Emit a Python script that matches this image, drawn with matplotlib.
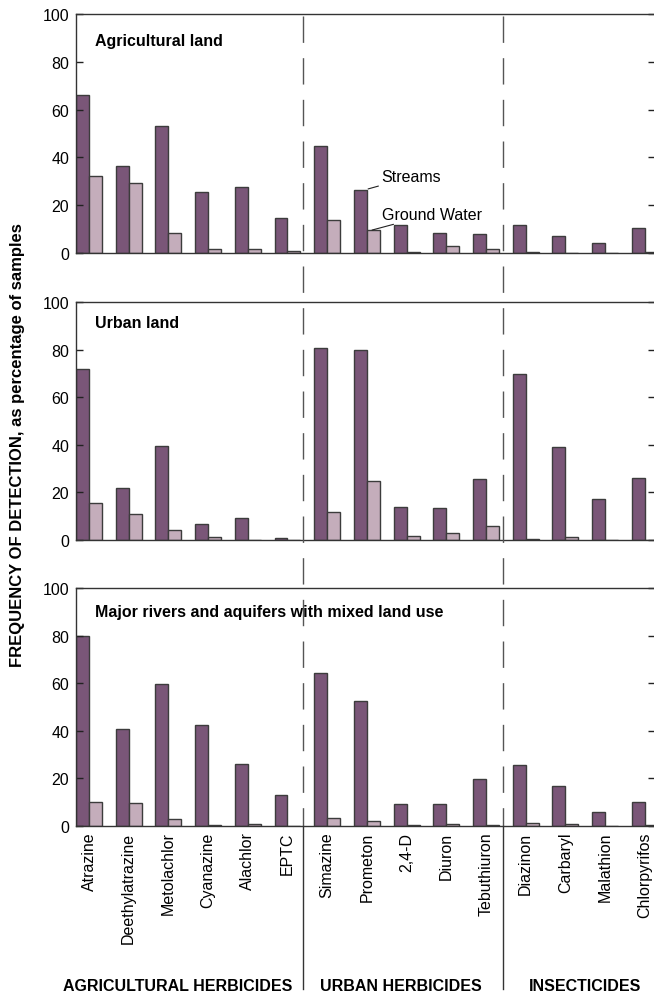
import matplotlib
matplotlib.use("Agg")
import matplotlib.pyplot as plt
from matplotlib.lines import Line2D
from matplotlib.transforms import blended_transform_factory

plt.rcParams["font.family"] = ["Liberation Sans", "DejaVu Sans"]

compounds = ["Atrazine", "Deethylatrazine", "Metolachlor", "Cyanazine", "Alachlor", "EPTC",
             "Simazine", "Prometon", "2,4-D", "Diuron", "Tebuthiuron",
             "Diazinon", "Carbaryl", "Malathion", "Chlorpyrifos"]
groups = ["AGRICULTURAL HERBICIDES", "URBAN HERBICIDES", "INSECTICIDES"]
panel_titles = ["Agricultural land", "Urban land",
                "Major rivers and aquifers with mixed land use"]

# frequency of detection (%), streams vs ground water
agr_streams = [66.1, 36.3, 53.1, 25.5, 27.6, 14.8, 44.9, 26.5, 11.8, 8.2, 7.8, 11.6, 7.3, 4.0, 10.3]
agr_gw = [32.1, 29.4, 8.5, 1.5, 1.8, 0.8, 13.8, 9.5, 0.5, 2.8, 1.5, 0.5, 0.2, 0.2, 0.5]
urb_streams = [71.8, 21.7, 39.6, 6.7, 9.1, 1.0, 80.8, 80.0, 13.7, 13.3, 25.6, 69.9, 38.9, 17.2, 26.1]
urb_gw = [15.4, 11.1, 4.3, 1.4, 0.0, 0.0, 11.6, 24.7, 1.5, 2.9, 5.9, 0.3, 1.4, 0.0, 0.0]
mix_streams = [79.8, 40.8, 59.5, 42.3, 25.9, 12.9, 64.3, 52.6, 9.1, 9.4, 19.7, 25.6, 16.7, 6.0, 10.1]
mix_gw = [10.1, 9.8, 2.8, 0.3, 0.8, 0.2, 3.2, 2.0, 0.3, 0.7, 0.5, 1.3, 0.7, 0.0, 0.3]

STREAM_C = "#7a5678"
GW_C = "#c4adbb"
EDGE = "#3c3c3c"
W = 0.327
FS = 11.5

fig = plt.figure(figsize=(6.54, 9.95), dpi=100)
left, width = 76 / 654, 579 / 654
rects = [(254, 239), (541, 238), (827, 238)]   # (bottom px, height px)
title_y = [0.888, 0.915, 0.900]
data = [(agr_streams, agr_gw), (urb_streams, urb_gw), (mix_streams, mix_gw)]

x = list(range(len(compounds)))
axes = []
for k, ((bot, h), (s, g)) in enumerate(zip(rects, data)):
    ax = fig.add_axes([left, 1 - bot / 995, width, h / 995])
    ax.bar([i - W / 2 for i in x], s, width=W, color=STREAM_C, edgecolor=EDGE, linewidth=1.0)
    ax.bar([i + W / 2 for i in x], g, width=W, color=GW_C, edgecolor=EDGE, linewidth=1.0)
    ax.set_xlim(-W, 14.257)
    ax.set_ylim(0, 100)
    ax.set_yticks([0, 20, 40, 60, 80, 100])
    ax.tick_params(axis="y", direction="in", length=5, width=1, labelsize=FS,
                   right=True, pad=5, color="#222222")
    ax.set_xticks(x)
    ax.tick_params(axis="x", length=0, pad=4)
    if k < 2:
        ax.set_xticklabels([])
    else:
        ax.set_xticklabels(compounds, rotation=90, fontsize=FS, va="top")
    for side in ax.spines.values():
        side.set_linewidth(1.0)
        side.set_color("#333333")
    ax.text(0.033, title_y[k], panel_titles[k], transform=ax.transAxes,
            fontsize=FS, fontweight="bold", va="center", ha="left")
    axes.append(ax)

# labels for the two bar series, pointing at Prometon in the top panel
ax0 = axes[0]
ax0.annotate("Streams", xy=(7 + 0.03, agr_streams[7] + 0.3), xytext=(7.36, 31.8),
             fontsize=FS, va="center", ha="left",
             arrowprops=dict(arrowstyle="-", color="#222222", lw=0.8,
                             shrinkA=0, shrinkB=0))
ax0.annotate("Ground Water", xy=(7 + 0.13, agr_gw[7] + 0.1), xytext=(7.38, 16.3),
             fontsize=FS, va="center", ha="left",
             arrowprops=dict(arrowstyle="-", color="#222222", lw=0.8,
                             shrinkA=0, shrinkB=0))

# group dividers: dashed through the panels, solid through the label area
tr = blended_transform_factory(axes[2].transData, fig.transFigure)
for xd in [5.39, 10.43]:
    fig.add_artist(Line2D([xd, xd], [1 - 17 / 995, 1 - 827 / 995], transform=tr,
                          color="#555555", lw=1.0, linestyle=(0, (19, 11))))
    fig.add_artist(Line2D([xd, xd], [1 - 827 / 995, 1 - 990 / 995], transform=tr,
                          color="#333333", lw=1.0))

for name, xc in zip(groups, [178, 401, 585]):
    fig.text(xc / 654, 1 - 987 / 995, name, fontsize=FS, fontweight="bold",
             ha="center", va="center")

fig.text(18 / 654, 1 - 445 / 995, "FREQUENCY OF DETECTION, as percentage of samples",
         rotation=90, fontsize=12, fontweight="bold", ha="center", va="center")

fig.savefig("out.png", dpi=100)
